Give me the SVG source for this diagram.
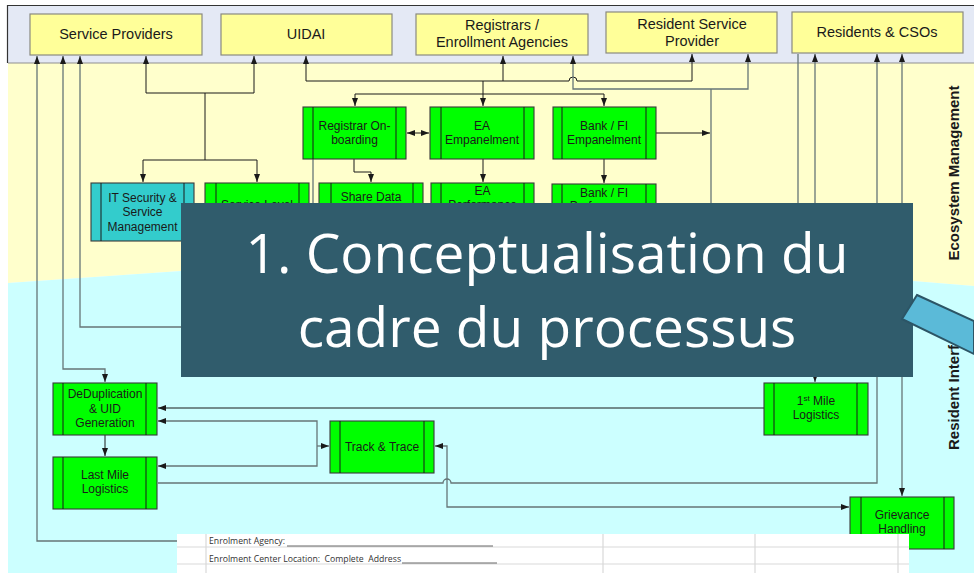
<svg xmlns="http://www.w3.org/2000/svg" width="974" height="573" viewBox="0 0 974 573">
<defs>
<marker id="ab" viewBox="0 0 8 6" refX="8" refY="3" markerWidth="8" markerHeight="6" markerUnits="userSpaceOnUse" orient="auto-start-reverse"><path d="M0,0L8,3L0,6z" fill="#1a1a1a"/></marker>
<marker id="ag" viewBox="0 0 8 6" refX="8" refY="3" markerWidth="8" markerHeight="6" markerUnits="userSpaceOnUse" orient="auto-start-reverse"><path d="M0,0L8,3L0,6z" fill="#1a1a1a"/></marker>
<style>
.top rect{fill:#ffff99;stroke:#8a8a80;stroke-width:1.2}
.t{font-family:"Liberation Sans",Arial,sans-serif;font-size:14.5px;fill:#1a1a1a;text-anchor:middle}
.pp rect{fill:#00ff00;stroke:#3a3a3a;stroke-width:1.1}
.pp line{stroke:#1a1a1a;stroke-width:1}
.cy rect{fill:#33cccc}
.n{font-family:"Liberation Sans",Arial,sans-serif;font-size:12px;fill:#1a1a1a;text-anchor:middle}
.k{fill:none;stroke:#1a1a1a;stroke-width:1}
.g{fill:none;stroke:#667677;stroke-width:1.3}
.side{font-family:"Liberation Sans",Arial,sans-serif;font-size:15px;font-weight:bold;fill:#1a1a1a}
.title{font-family:"Open Sans","Noto Sans",sans-serif;font-size:55px;fill:#ffffff;text-anchor:middle}
.tab{font-family:"Open Sans","Noto Sans",sans-serif;font-size:8.7px;fill:#333}
.grid{stroke:#d9d9d9;stroke-width:1.2}
</style>
</defs>
<rect x="0" y="0" width="974" height="573" fill="#ffffff"/>
<polygon points="8,63 974,63 974,286 913,281 181,271 8,283" fill="#ffffcc"/>
<polygon points="8,283 181,271 913,281 974,286 974,573 8,573" fill="#ccffff"/>
<rect x="8" y="5" width="966" height="58" fill="#e4e9f5"/>
<path d="M8,63H974" stroke="#8f8f8f" stroke-width="1.2"/>
<path d="M7.5,63V5.5H974" fill="none" stroke="#333" stroke-width="1.2"/>

<g id="connectors">
<path class="g" d="M300,541H37V56" marker-end="url(#ag)"/>
<path class="g" d="M105,382V369H63V56" marker-start="url(#ag)" marker-end="url(#ag)"/>
<path class="g" d="M798,54V327H80V56" marker-end="url(#ag)"/>
<path class="k" d="M146,56V93H254V56" marker-start="url(#ab)" marker-end="url(#ab)"/>
<path class="k" d="M205,93V160"/>
<path class="k" d="M143,182V160H257V182" marker-start="url(#ab)" marker-end="url(#ab)"/>
<path class="k" d="M306,56V81H569A4,4 0 0 1 577,81H692V54" marker-start="url(#ab)" marker-end="url(#ab)"/>
<path class="k" d="M503,81V56" marker-end="url(#ab)"/>
<path class="k" d="M483,81V106" marker-end="url(#ab)"/>
<path class="k" d="M355,106V94H604V106" marker-start="url(#ab)" marker-end="url(#ab)"/>
<path class="g" d="M573,56V89H748V54" marker-start="url(#ag)" marker-end="url(#ag)"/>
<path class="g" d="M711,89V240"/>
<path class="k" d="M656,133H710" marker-end="url(#ab)"/>
<path class="k" d="M407,133H429" marker-start="url(#ab)" marker-end="url(#ab)"/>
<path class="k" d="M354,159V172H371V182" marker-end="url(#ab)"/>
<path class="k" d="M483,159V182" marker-end="url(#ab)"/>
<path class="k" d="M604,159V183" marker-end="url(#ab)"/>
<path class="g" d="M313,159V240"/>
<path class="g" d="M815,54V382" marker-start="url(#ag)" marker-end="url(#ag)"/>
<path class="g" d="M902,54V496" marker-start="url(#ag)" marker-end="url(#ag)"/>
<path class="g" d="M158,483H443A4,4 0 0 1 451,483H877V54" marker-end="url(#ag)"/>
<path class="g" d="M435,446H447V507H849" marker-start="url(#ag)" marker-end="url(#ag)"/>
<path class="k" d="M764,408H158" marker-end="url(#ab)"/>
<path class="g" d="M158,421H317V466H158" marker-start="url(#ag)" marker-end="url(#ag)"/>
<path class="g" d="M317,446H329" marker-end="url(#ag)"/>
<path class="k" d="M105,435V456" marker-end="url(#ab)"/>
</g>

<g id="service-providers" class="top"><rect x="30" y="14" width="172" height="41"/><text class="t" x="116" y="39">Service Providers</text></g>
<g id="uidai" class="top"><rect x="221" y="14" width="171" height="41"/><text class="t" x="306" y="39">UIDAI</text></g>
<g id="registrars" class="top"><rect x="416" y="14" width="172" height="41"/><text class="t" x="502" y="29.5">Registrars /</text><text class="t" x="502" y="47">Enrollment Agencies</text></g>
<g id="resident-service-provider" class="top"><rect x="606" y="12" width="171" height="41"/><text class="t" x="692" y="28.5">Resident Service</text><text class="t" x="692" y="46">Provider</text></g>
<g id="residents-csos" class="top"><rect x="792" y="12" width="171" height="41"/><text class="t" x="877" y="37">Residents &amp; CSOs</text></g>

<g id="registrar-onboarding" class="pp"><rect x="303" y="107" width="103" height="52"/><line x1="313" y1="107" x2="313" y2="159"/><line x1="396" y1="107" x2="396" y2="159"/><text class="n" x="354.5" y="130">Registrar On-</text><text class="n" x="354.5" y="144">boarding</text></g>
<g id="ea-empanelment" class="pp"><rect x="430" y="107" width="104" height="52"/><line x1="441" y1="107" x2="441" y2="159"/><line x1="524" y1="107" x2="524" y2="159"/><text class="n" x="482" y="130">EA</text><text class="n" x="482" y="144">Empanelment</text></g>
<g id="bank-fi-empanelment" class="pp"><rect x="553" y="107" width="103" height="52"/><line x1="562" y1="107" x2="562" y2="159"/><line x1="646" y1="107" x2="646" y2="159"/><text class="n" x="604" y="130">Bank / FI</text><text class="n" x="604" y="144">Empanelment</text></g>
<g id="it-security" class="pp cy"><rect x="91" y="183" width="103" height="58"/><line x1="101" y1="183" x2="101" y2="241"/><line x1="184" y1="183" x2="184" y2="241"/><text class="n" x="142.5" y="201.5">IT Security &amp;</text><text class="n" x="142.5" y="216">Service</text><text class="n" x="142.5" y="230.5">Management</text></g>
<g id="service-level" class="pp"><rect x="205" y="183" width="104" height="58"/><line x1="216" y1="183" x2="216" y2="241"/><line x1="299" y1="183" x2="299" y2="241"/><text class="n" x="257" y="208.5">Service Level</text></g>
<g id="share-data" class="pp"><rect x="319" y="183" width="104" height="58"/><line x1="331" y1="183" x2="331" y2="241"/><line x1="413" y1="183" x2="413" y2="241"/><text class="n" x="371" y="201">Share Data</text></g>
<g id="ea-performance" class="pp"><rect x="431" y="183" width="103" height="58"/><line x1="441" y1="183" x2="441" y2="241"/><line x1="524" y1="183" x2="524" y2="241"/><text class="n" x="482.5" y="195">EA</text><text class="n" x="482.5" y="208.5">Performance</text></g>
<g id="bank-fi-performance" class="pp"><rect x="552" y="184" width="104" height="58"/><line x1="562" y1="184" x2="562" y2="242"/><line x1="646" y1="184" x2="646" y2="242"/><text class="n" x="604" y="196.5">Bank / FI</text><text class="n" x="604" y="210">Performance</text></g>

<g id="deduplication" class="pp"><rect x="53" y="383" width="104" height="52"/><line x1="63" y1="383" x2="63" y2="435"/><line x1="146" y1="383" x2="146" y2="435"/><text class="n" x="105" y="398">DeDuplication</text><text class="n" x="105" y="412.5">&amp; UID</text><text class="n" x="105" y="427">Generation</text></g>
<g id="last-mile" class="pp"><rect x="53" y="457" width="104" height="52"/><line x1="63" y1="457" x2="63" y2="509"/><line x1="146" y1="457" x2="146" y2="509"/><text class="n" x="105" y="479">Last Mile</text><text class="n" x="105" y="493">Logistics</text></g>
<g id="track-trace" class="pp"><rect x="330" y="421" width="104" height="52"/><line x1="340" y1="421" x2="340" y2="473"/><line x1="424" y1="421" x2="424" y2="473"/><text class="n" x="382" y="451">Track &amp; Trace</text></g>
<g id="first-mile" class="pp"><rect x="764" y="383" width="104" height="52"/><line x1="774" y1="383" x2="774" y2="435"/><line x1="857" y1="383" x2="857" y2="435"/><text class="n" x="816" y="405">1<tspan font-size="8" dy="-4">st</tspan><tspan dy="4"> Mile</tspan></text><text class="n" x="816" y="419">Logistics</text></g>
<g id="grievance" class="pp"><rect x="850" y="497" width="104" height="52"/><line x1="861" y1="497" x2="861" y2="549"/><line x1="944" y1="497" x2="944" y2="549"/><text class="n" x="902" y="519">Grievance</text><text class="n" x="902" y="533">Handling</text></g>

<text class="side" text-anchor="middle" transform="translate(959,173) rotate(-90)">Ecosystem Management</text>
<text class="side" transform="translate(959,450) rotate(-90)">Resident Interface</text>

<g id="title">
<rect x="181" y="203" width="732" height="174" fill="#305c6c"/>
<text class="title" x="547" y="273">1. Conceptualisation du</text>
<text class="title" x="547" y="347">cadre du processus</text>
</g>
<polygon points="917,295 974,321 974,354 902,319" fill="#5bbad8" stroke="#2c5566" stroke-width="2"/>

<g id="form">
<rect x="177" y="534" width="732" height="39" fill="#ffffff"/>
<path class="grid" d="M177,547H909M177,564H909M206,534V573M603,534V573M755,534V573M898,534V573"/>
<text class="tab" x="209" y="544">Enrolment Agency:</text>
<path d="M287,546H493" stroke="#555" stroke-width="0.9"/>
<text class="tab" x="209" y="562" xml:space="preserve">Enrolment Center Location:  Complete  Address</text>
<path d="M402,563H497" stroke="#555" stroke-width="0.9"/>
</g>
</svg>
